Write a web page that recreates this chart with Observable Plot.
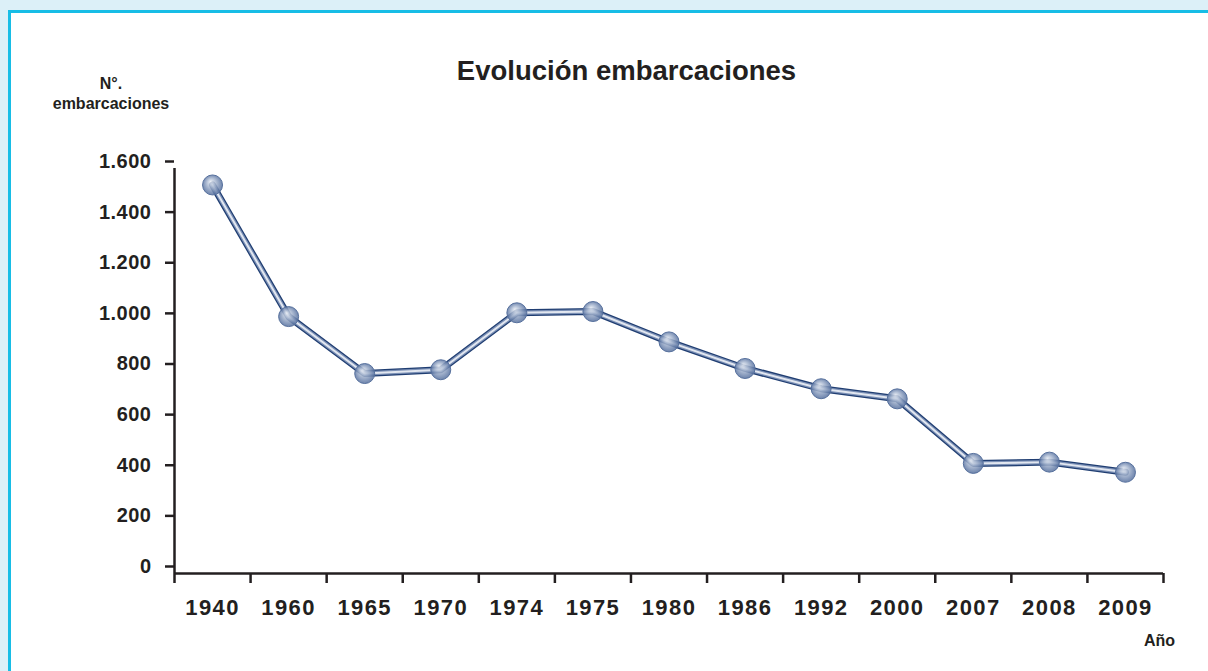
<!DOCTYPE html>
<html>
<head>
<meta charset="utf-8">
<script src="https://cdn.jsdelivr.net/npm/d3@7"></script>
<script src="https://cdn.jsdelivr.net/npm/@observablehq/plot@0.6"></script>
<style>
  html, body { margin: 0; padding: 0; width: 1208px; height: 671px; overflow: hidden; background: #dcf0f8; }
  #frame { position: absolute; left: 8px; top: 10px; width: 1300px; height: 700px; background: #fff;
           border-top: 3px solid #17bde6; border-left: 3px solid #17bde6; }
  .lbl { position: absolute; font-family: "Liberation Sans", Arial, sans-serif; font-weight: bold; color: #231f20; white-space: nowrap; }
  #chart { position: absolute; left: 0; top: 0; }
  #chart g[aria-label="x-axis tick label"] text { letter-spacing: 1.4px; }
  #chart g[aria-label="y-axis tick label"] text { letter-spacing: 0.5px; }
</style>
</head>
<body>
<div id="frame"></div>
<div class="lbl" id="title" style="left:0; width:1253px; text-align:center; top:55px; font-size:27.5px;">Evolución embarcaciones</div>
<div class="lbl" style="left:40px; width:142px; text-align:center; top:74px; font-size:16px; line-height:20px;">N°.<br>embarcaciones</div>
<div class="lbl" style="left:1144px; top:632px; font-size:16px;">Año</div>
<div id="chart"></div>
<script>
const years = ["1940","1960","1965","1970","1974","1975","1980","1986","1992","2000","2007","2008","2009"];
const boats = [1535, 1015, 790, 805, 1030, 1035, 915, 810, 730, 690, 435, 440, 400];
const yTicks = [0, 200, 400, 600, 800, 1000, 1200, 1400, 1600];

const data = years.map((y, i) => ({year: y, idx: i + 0.5, value: boats[i]}));
const bandEdges = d3.range(years.length + 1);
const bandCenters = years.map((y, i) => i + 0.5);
const fmtY = d => d3.format(",")(d).replace(/,/g, ".");

const plot = Plot.plot({
  width: 1208,
  height: 671,
  marginLeft: 174,
  marginRight: 45,
  marginTop: 168,
  marginBottom: 98,
  style: {background: "transparent", fontFamily: "Liberation Sans, Arial, sans-serif", color: "#231f20", overflow: "visible"},
  x: {type: "linear", domain: [0, years.length], axis: null},
  y: {domain: [0, 1600], axis: null},
  marks: [
    Plot.axisY({ticks: yTicks, tickSize: 9, tickPadding: 14, tickFormat: fmtY, fontSize: 20, fontWeight: "bold", dy: -7, strokeWidth: 2.5, label: null}),
    Plot.axisX({ticks: bandEdges, tickSize: 10, tickFormat: () => "", strokeWidth: 2.5, label: null}),
    Plot.axisX({ticks: bandCenters, tickSize: 0, tickPadding: 26, tickFormat: d => years[Math.round(d - 0.5)], fontSize: 22, fontWeight: "bold", label: null}),
    Plot.ruleX([0], {stroke: "#231f20", strokeWidth: 2.5}),
    Plot.ruleY([0], {stroke: "#231f20", strokeWidth: 2.5}),
    Plot.line(data, {x: "idx", y: "value", stroke: "#203e72", strokeWidth: 7}),
    Plot.line(data, {x: "idx", y: "value", stroke: "#7a8fb5", strokeWidth: 4.5}),
    Plot.line(data, {x: "idx", y: "value", stroke: "#e2e7f0", strokeWidth: 2}),
    Plot.dot(data, {x: "idx", y: "value", r: 10, fill: "url(#sphere)", fillOpacity: 0.85, stroke: "#56709d", strokeWidth: 1})
  ]
});

const defs = document.createElementNS("http://www.w3.org/2000/svg", "defs");
defs.innerHTML = `<radialGradient id="sphere" cx="0.5" cy="0.5" r="0.55" fx="0.4" fy="0.32">
  <stop offset="0" stop-color="#e6ebf3"/>
  <stop offset="0.35" stop-color="#b0bed5"/>
  <stop offset="0.8" stop-color="#6880aa"/>
  <stop offset="1" stop-color="#4f6997"/>
</radialGradient>`;
plot.insertBefore(defs, plot.firstChild);
document.getElementById("chart").appendChild(plot);
</script>
</body>
</html>
